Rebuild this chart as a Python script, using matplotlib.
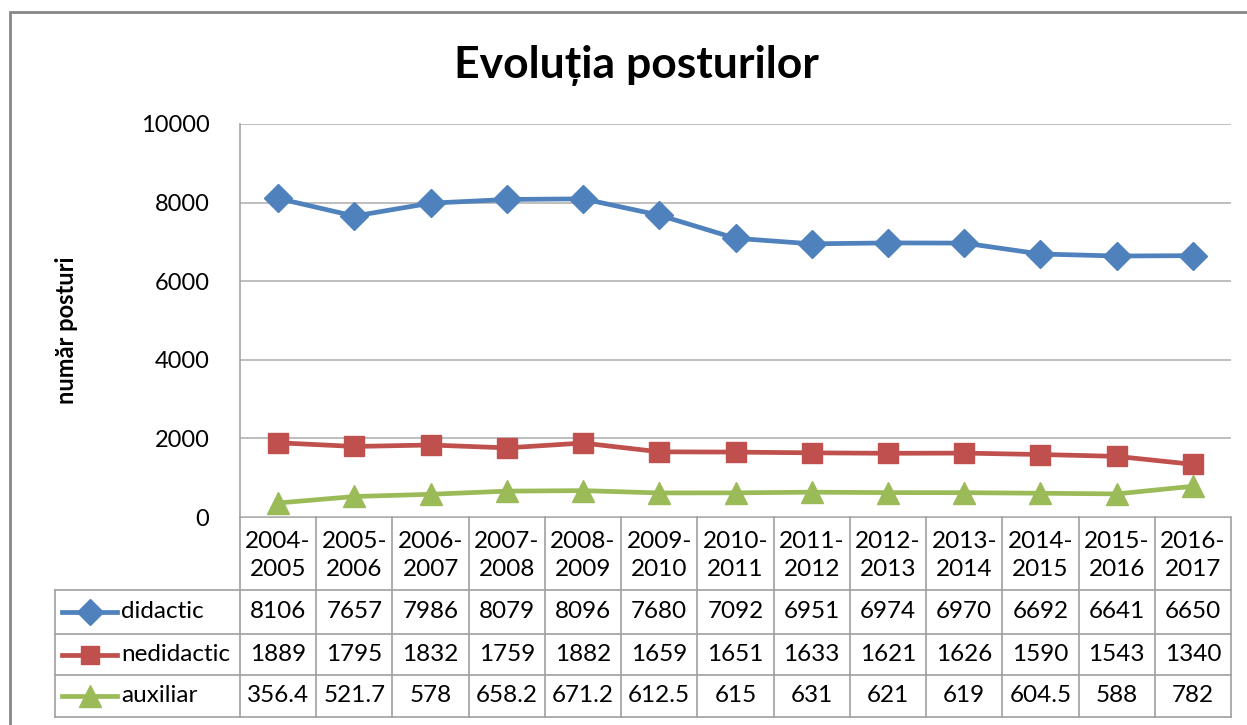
import numpy as np
import matplotlib.pyplot as plt
from matplotlib.patches import Rectangle

years = ['2004-\n2005', '2005-\n2006', '2006-\n2007', '2007-\n2008', '2008-\n2009',
         '2009-\n2010', '2010-\n2011', '2011-\n2012', '2012-\n2013', '2013-\n2014',
         '2014-\n2015', '2015-\n2016', '2016-\n2017']
didactic = [8106, 7657, 7986, 8079, 8096, 7680, 7092, 6951, 6974, 6970, 6692, 6641, 6650]
nedidactic = [1889, 1795, 1832, 1759, 1882, 1659, 1651, 1633, 1621, 1626, 1590, 1543, 1340]
auxiliar = [356.4, 521.7, 578, 658.2, 671.2, 612.5, 615, 631, 621, 619, 604.5, 588, 782]
auxiliar_txt = ['356.4', '521.7', '578', '658.2', '671.2', '612.5', '615', '631', '621', '619', '604.5', '588', '782']

series = [('didactic', didactic, [str(v) for v in didactic], '#4F81BD', 'D', 14),
          ('nedidactic', nedidactic, [str(v) for v in nedidactic], '#C0504D', 's', 14),
          ('auxiliar', auxiliar, auxiliar_txt, '#9BBB59', '^', 16)]

plt.rcParams['font.family'] = ['Lato', 'DejaVu Sans']
W, H = 1247, 725
fig = plt.figure(figsize=(W / 100, H / 100), dpi=100)

# outer chart frame
fig.patches.append(Rectangle((10 / W, -0.05), 1.1, 1 - 12 / H + 0.05, transform=fig.transFigure,
                             fill=False, edgecolor='#868686', linewidth=2))

x0, x1, y0, y1 = 240, 1231, 124, 517
ax = fig.add_axes([x0 / W, 1 - y1 / H, (x1 - x0) / W, (y1 - y0) / H])
n = len(years)
x = np.arange(n)
for name, vals, txt, col, mk, ms in series:
    ax.plot(x, vals, color=col, lw=3.4, marker=mk, markersize=ms, zorder=3)
ax.set_xlim(-0.5, n - 0.5)
ax.set_ylim(0, 10000)
ax.set_yticks(np.arange(0, 10001, 2000))
ax.tick_params(axis='y', length=0, labelsize=17, pad=22)
ax.set_xticks([])
ax.grid(axis='y', color='#B3B3B3', lw=1.2)
for s in ['top', 'right', 'bottom']:
    ax.spines[s].set_visible(False)
ax.spines['left'].set_color('#A6A6A6')
ax.spines['left'].set_linewidth(1.2)
ax.set_axisbelow(True)
fig.text(66 / W, 1 - 330 / H, 'număr posturi', rotation=90, fontsize=17, fontweight='bold',
         ha='center', va='center')
fig.text(636 / W, 1 - 66 / H, 'Evoluția posturilor', fontsize=32, fontweight='bold',
         ha='center', va='center')

# data table below the plot
colw = (x1 - x0) / n
lx = 55
tb = 717
tab = fig.add_axes([lx / W, 1 - tb / H, (x1 - lx) / W, (tb - y1) / H])
tab.set_xlim(-0.5 - (x0 - lx) / colw, n - 0.5)
tab.set_ylim(tb - y1, 0)
tab.axis('off')
rows = [0, 73, 117, 158, 200]
lc = '#A0A0A0'
left = -0.5 - (x0 - lx) / colw
tab.plot([-0.5, n - 0.5], [rows[0]] * 2, color=lc, lw=1.2)
for r in rows[1:]:
    tab.plot([left, n - 0.5], [r, r], color=lc, lw=1.2, clip_on=False)
for i in range(n + 1):
    tab.plot([i - 0.5, i - 0.5], [0, rows[-1]], color=lc, lw=1.2, clip_on=False)
tab.plot([left, left], [rows[1], rows[-1]], color=lc, lw=1.2, clip_on=False)
for i, lab in enumerate(years):
    tab.text(i, rows[1] / 2 + 2, lab, ha='center', va='center', fontsize=17.5, linespacing=1.4)
for k, (name, vals, txt, col, mk, ms) in enumerate(series):
    yc = (rows[k + 1] + rows[k + 2]) / 2
    for i, t in enumerate(txt):
        tab.text(i, yc, t, ha='center', va='center', fontsize=17.5)
    kx0 = left + 7 / colw
    kx1 = left + 62 / colw
    tab.plot([kx0, kx1], [yc, yc], color=col, lw=3.4, clip_on=False)
    tab.plot([(kx0 + kx1) / 2], [yc], color=col, marker=mk, markersize=ms * 0.95, clip_on=False)
    tab.text(left + 66 / colw, yc, name, ha='left', va='center', fontsize=17.5)

fig.savefig('out.png', dpi=100)
